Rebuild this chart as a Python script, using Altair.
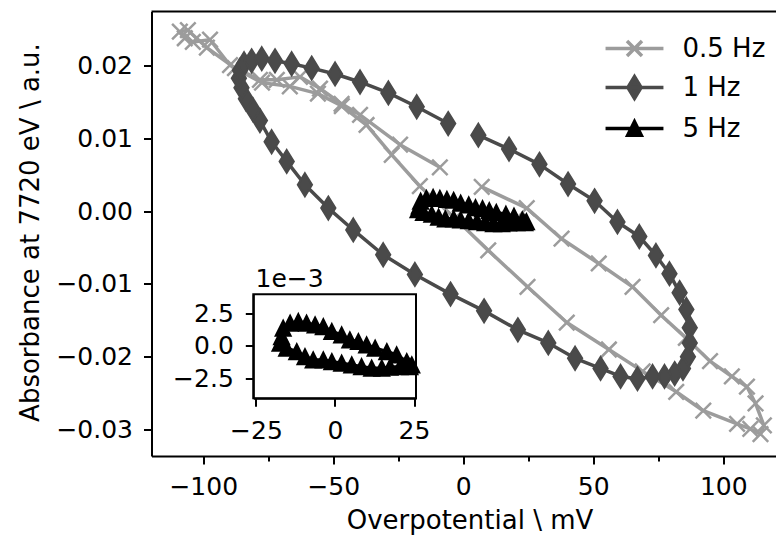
import altair as alt
import pandas as pd

# ---------------- data ----------------
series = ["0.5 Hz", "1 Hz", "5 Hz"]
colors = ["#9c9c9c", "#4a4a4a", "#000000"]

x05 = [-9.0, -24.3, -39.7, -46.8, -55.1, -62.8, -71.7, -78.2, -89.7, -97.4, -104.0, -107.1, -109.0,
       -105.9, -98.6, -87.8, -77.4, -66.7, -55.9, -46.7, -37.2, -27.5, -16.7, -3.2, 9.6, 24.7, 39.8,
       56.0, 69.0, 81.9, 92.3, 105.3, 110.4, 114.3, 115.6,
       112.4, 109.1, 103.3, 94.9, 85.6, 76.1, 65.1, 52.1, 37.8, 24.4, 7.1]
y05 = [0.0060, 0.0091, 0.0132, 0.0147, 0.0168, 0.0184, 0.0180, 0.0180, 0.0200, 0.0235, 0.0232, 0.0237, 0.0246,
       0.0248, 0.0224, 0.0196, 0.0176, 0.0171, 0.0161, 0.0144, 0.0118, 0.0077, 0.0034, -0.0010, -0.0054, -0.0104, -0.0153,
       -0.0190, -0.0220, -0.0248, -0.0274, -0.0292, -0.0299, -0.0306, -0.0294,
       -0.0264, -0.0241, -0.0227, -0.0206, -0.0174, -0.0143, -0.0104, -0.0072, -0.0038, 0.0004, 0.0033]

x1 = [5.8, 17.6, 29.3, 40.3, 50.5, 59.3, 67.7, 74.1, 79.3, 83.2,
      85.8, 87.1, 87.1, 86.4, 84.5, 81.3, 77.4, 72.8, 67.0, 60.5,
      52.8, 43.0, 32.7, 21.0, 8.0, -4.9, -18.6, -30.8, -42.3, -51.9,
      -60.9, -67.9, -73.7, -78.2, -80.9, -83.6, -85.3, -86.3, -85.9, -84.3,
      -81.4, -77.5, -72.4, -66.0, -58.3, -49.3, -39.7, -28.8, -17.9, -5.8]
y1 = [0.0104, 0.0085, 0.0064, 0.0037, 0.0014, -0.0015, -0.0035, -0.0061, -0.0086, -0.0112,
      -0.0135, -0.0160, -0.0181, -0.0200, -0.0216, -0.0223, -0.0227, -0.0227, -0.0230, -0.0227,
      -0.0216, -0.0202, -0.0181, -0.0163, -0.0137, -0.0114, -0.0087, -0.0060, -0.0026, 0.0004,
      0.0036, 0.0068, 0.0095, 0.0124, 0.0139, 0.0154, 0.0169, 0.0182, 0.0193, 0.0202,
      0.0206, 0.0209, 0.0206, 0.0202, 0.0196, 0.0188, 0.0177, 0.0162, 0.0143, 0.0120]

x5 = [-16.4, -14.2, -11.6, -9.0, -6.3, -3.7, -1.0, 2.1, 4.7, 7.4, 10.0, 12.7, 16.4, 19.5, 22.7, 24.3,
      23.7, 20.6, 17.4, 14.8, 11.6, 8.4, 5.3, 2.1, -1.0, -3.7, -6.9, -9.5, -12.1, -15.3, -17.4, -16.9]
y5 = [0.00134, 0.00172, 0.00185, 0.00172, 0.00159, 0.00146, 0.00108, 0.00082, 0.00044, 0.00031,
      0.00005, -0.00020, -0.00046, -0.00072, -0.00123, -0.00148,
      -0.00162, -0.00162, -0.00166, -0.00174, -0.00174, -0.00162, -0.00148, -0.00135, -0.00123,
      -0.00110, -0.00110, -0.00085, -0.00046, -0.00020, 0.00018, 0.00069]

xticks_main = [-100, -75, -50, -25, 0, 25, 50, 75, 100]
yticks_main = [-0.03, -0.02, -0.01, 0.0, 0.01, 0.02]
xticks_inset = [-25, 0, 25]
yticks_inset = [-0.0025, 0.0, 0.0025]

rows = []
for s, xs, ys in zip(series, [x05, x1, x5], [y05, y1, y5]):
    for i, (a, b) in enumerate(zip(xs, ys)):
        rows.append({"series": s, "idx": i, "x": a, "y": b})
df = pd.DataFrame(rows)

# ---------------- layout ----------------
W, H = 624.5, 444.5
X_DOM = [-119.9, 120.27]
Y_DOM = [-0.03361, 0.02737]
IX_DOM = [-25.85, 25.63]
IX_RANGE = [101.8, 264.5]
IY_DOM = [-0.00405, 0.00395]
IY_RANGE = [386.8, 282.8]

MINUS = "\u2212"

xm = alt.X("x:Q",
           scale=alt.Scale(domain=X_DOM, nice=False, zero=False),
           axis=alt.Axis(values=xticks_main, orient="bottom",
                         labelExpr=f"datum.value % 50 === 0 ? replace(format(datum.value, 'd'), '-', '{MINUS}') : ''",
                         tickSize={"condition": {"test": "datum.value % 50 !== 0", "value": 5}, "value": 8},
                         labelPadding=10, labelFlush=False, labelOverlap=False,
                         title="Overpotential \\ mV", titleX=318, titleY=72,
                         titleAlign="center", titleBaseline="alphabetic", zindex=1))
ym = alt.Y("y:Q",
           scale=alt.Scale(domain=Y_DOM, nice=False, zero=False),
           axis=alt.Axis(values=yticks_main, orient="left",
                         labelExpr=f"replace(format(datum.value, '.2f'), '-', '{MINUS}')",
                         tickSize=8, labelPadding=11, labelFlush=False, labelOverlap=False,
                         title="Absorbance at 7720 eV \\ a.u.", titleX=-121.5, titleY=220.5,
                         titleAngle=270, titleAlign="center", titleBaseline="middle", zindex=1))

xi = alt.X("x:Q",
           scale=alt.Scale(domain=IX_DOM, range=IX_RANGE, nice=False, zero=False),
           axis=alt.Axis(values=xticks_inset, orient="bottom", offset=-(H - IY_RANGE[0]),
                         labelExpr=f"replace(format(datum.value, 'd'), '-', '{MINUS}')",
                         tickSize=8, labelPadding=12, labelFlush=False, labelOverlap=False,
                         title=None, zindex=2))
yi = alt.Y("y:Q",
           scale=alt.Scale(domain=IY_DOM, range=IY_RANGE, nice=False, zero=False),
           axis=alt.Axis(values=yticks_inset, orient="left", offset=-IX_RANGE[0],
                         labelExpr=f"replace(format(datum.value * 1000, '.1f'), '-', '{MINUS}')",
                         tickSize=8, labelPadding=12, labelFlush=False, labelOverlap=False,
                         title="1e" + MINUS + "3", titleAngle=0, titleAlign="left",
                         titleBaseline="alphabetic", titleX=1.7, titleY=275.2,
                         titleFontSize=25, zindex=2))

cross = "M-1,-1L1,1M-1,1L1,-1"
diamond = "M0,-1L0.62,0L0,1L-0.62,0Z"
triangle = "M0,-1L1,1L-1,1Z"
marker_style = {
    "0.5 Hz": dict(shape=cross, size=240, filled=False, strokeWidth=2.5),
    "1 Hz": dict(shape=diamond, size=529, filled=True, strokeWidth=2),
    "5 Hz": dict(shape=triangle, size=225, filled=True, strokeWidth=2),
}

base = alt.Chart(df)
main_layers = []
for s, c in zip(series, colors):
    sub = base.transform_filter(alt.datum.series == s)
    main_layers.append(sub.mark_line(color=c, strokeWidth=3.5, strokeJoin="round").encode(
        x=xm, y=ym, order="idx:Q"))
    st = marker_style[s]
    main_layers.append(sub.mark_point(shape=st["shape"], size=st["size"], filled=st["filled"],
                                      fill=c if st["filled"] else "transparent",
                                      stroke=c, strokeWidth=st["strokeWidth"], opacity=1).encode(
        x=xm, y=ym))

frame_top = alt.Chart(pd.DataFrame({"a": [0]})).mark_rule(color="black", strokeWidth=2).encode(
    x=alt.value(0), x2=alt.value(W), y=alt.value(0))
main_layers.append(frame_top)

leg_paths = [
    "M-1.93,0L1.93,0M-0.5,-0.5L0.5,0.5M-0.5,0.5L0.5,-0.5",
    "M-1.93,0L1.93,0M0,-0.72L0.44,0L0,0.72L-0.44,0Z",
    "M-1.93,0L1.93,0M0,-0.45L0.45,0.45L-0.45,0.45Z",
]
leg = alt.Legend(orient="none", legendX=466, legendY=20, title=None, symbolSize=900,
                 labelOffset=31, rowPadding=6, padding=0)
carrier = alt.Chart(pd.DataFrame({"series": series})).transform_filter("false").mark_point(
    filled=True, opacity=1).encode(
    shape=alt.Shape("series:N", scale=alt.Scale(domain=series, range=leg_paths), legend=leg),
    fill=alt.Fill("series:N", scale=alt.Scale(domain=series, range=colors), legend=leg),
    stroke=alt.Stroke("series:N", scale=alt.Scale(domain=series, range=colors), legend=leg),
)
main_layers.append(carrier)
main = alt.layer(*main_layers)

frame_df = pd.DataFrame({"x": [IX_DOM[0]], "x2": [IX_DOM[1]], "y": [IY_DOM[0]], "y2": [IY_DOM[1]]})
inset_rect = alt.Chart(frame_df).mark_rect(fill="white", stroke="black", strokeWidth=2).encode(
    x=xi, x2="x2:Q", y=yi, y2="y2:Q")
sub5 = base.transform_filter(alt.datum.series == "5 Hz")
inset_line = sub5.mark_line(color="black", strokeWidth=3.5, strokeJoin="round").encode(
    x=xi, y=yi, order="idx:Q")
st5 = marker_style["5 Hz"]
inset_pts = sub5.mark_point(shape=st5["shape"], size=st5["size"], filled=True, fill="black",
                            stroke="black", strokeWidth=2, opacity=1).encode(x=xi, y=yi)
inset = alt.layer(inset_rect, inset_line, inset_pts)

chart = alt.layer(main, inset).resolve_scale(x="independent", y="independent").properties(
    width=W, height=H,
    autosize=alt.AutoSizeParams(type="none"),
    padding={"left": 151.5, "top": 11.5, "right": 0, "bottom": 535 - 11.5 - H},
).configure_view(stroke=None).configure_axis(
    labelFont="DejaVu Sans", labelFontSize=25, labelColor="black",
    titleFont="DejaVu Sans", titleFontSize=26, titleFontWeight="normal", titleColor="black",
    domainColor="black", domainWidth=2, tickColor="black", tickWidth=2, grid=False,
).configure_legend(
    labelFont="DejaVu Sans", labelFontSize=26, labelColor="black", symbolStrokeWidth=3.5,
)

chart.save("out.html", embed_options={"renderer": "svg", "actions": False})
